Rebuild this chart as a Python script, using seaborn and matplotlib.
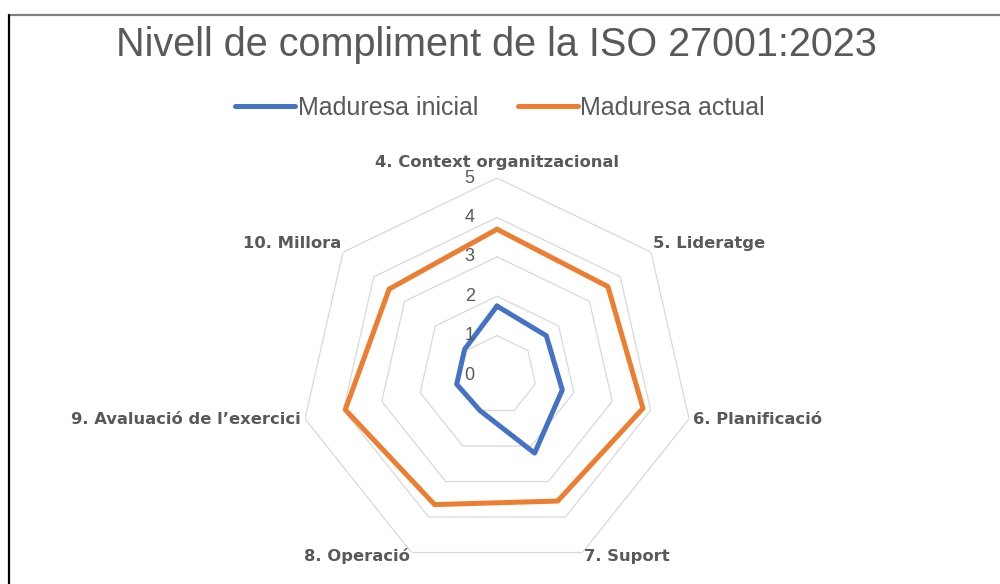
import numpy as np
import pandas as pd
import matplotlib
matplotlib.use('Agg')
import matplotlib.pyplot as plt
from matplotlib.lines import Line2D
import seaborn as sns

# dades del gràfic de radar
categories = ['4. Context organitzacional', '5. Lideratge', '6. Planificació',
              '7. Suport', '8. Operació', '9. Avaluació de l’exercici', '10. Millora']
maduresa_inicial = [1.75, 1.6, 1.7, 2.2, 1.0, 1.05, 1.05]
maduresa_actual = [3.7, 3.6, 3.8, 3.55, 3.65, 3.95, 3.5]
series = ['Maduresa inicial', 'Maduresa actual']
levels = [0, 1, 2, 3, 4, 5]

sns.set_style('white')
plt.rcParams['font.family'] = ['Liberation Sans', 'DejaVu Sans']
gray = '#595959'
palette = {'Maduresa inicial': '#4472C4', 'Maduresa actual': '#ED7D31'}

n = len(categories)
theta = np.linspace(0, 2 * np.pi, n, endpoint=False)
theta_closed = np.append(theta, 2 * np.pi)

rows = []
for name, vals in zip(series, [maduresa_inicial, maduresa_actual]):
    closed = list(vals) + [vals[0]]
    for t, v in zip(theta_closed, closed):
        rows.append({'theta': t, 'valor': v, 'serie': name})
df = pd.DataFrame(rows)

fig = plt.figure(figsize=(10, 5.84), dpi=100)
ax = fig.add_axes([0.300, 0.0205, 0.394, 0.6747], projection='polar')
ax.set_theta_offset(np.pi / 2)
ax.set_theta_direction(-1)
ax.set_ylim(0, 5)
ax.grid(False)
ax.spines['polar'].set_visible(False)
ax.set_xticks([])
ax.set_yticks([])
ax.patch.set_alpha(0)

# anells heptagonals
for lv in levels[1:]:
    ax.plot(theta_closed, [lv] * len(theta_closed), color='#D9D9D9', lw=0.9, zorder=0)

sns.lineplot(data=df, x='theta', y='valor', hue='serie', palette=palette,
             sort=False, estimator=None, linewidth=3.6, ax=ax, zorder=3)
ax.set_xlabel('')
ax.set_ylabel('')

# etiquetes de l'eix radial
for lv in levels:
    ax.annotate(str(lv), xy=(0, lv), xytext=(-16, 0), textcoords='offset points',
                ha='right', va='center', fontsize=13, color=gray)

# etiquetes de categoria
for t, lab in zip(theta, categories):
    s = np.sin(t)
    c = np.cos(t)
    if abs(s) < 0.01:
        ha, va, r = 'center', 'bottom', 5.2
    else:
        ha = 'left' if s > 0 else 'right'
        va = 'bottom' if c > 0.3 else 'center'
        r = 5.05 if c > 0.3 else 5.1
    ax.text(t, r, lab, ha=ha, va=va, fontsize=11.8, fontweight='bold', color=gray,
            family=['DejaVu Sans'])

sns.move_legend(ax, 'center', bbox_to_anchor=(0.500, 0.815),
                bbox_transform=fig.transFigure, ncol=2, frameon=False, title=None,
                fontsize=18, handlelength=2.4, handletextpad=0.1, columnspacing=1.6)
for txt in ax.get_legend().get_texts():
    txt.set_color(gray)

fig.text(0.4965, 0.923, 'Nivell de compliment de la ISO 27001:2023',
         ha='center', va='center', fontsize=28.5, color=gray)

# marc del gràfic
fig.add_artist(Line2D([0.009, 1.0], [0.974, 0.974], transform=fig.transFigure,
                      color='#808080', lw=1.6))
fig.add_artist(Line2D([0.009, 0.009], [0.0, 0.974], transform=fig.transFigure,
                      color='black', lw=1.6))

fig.savefig('out.png', dpi=100, facecolor='white')
